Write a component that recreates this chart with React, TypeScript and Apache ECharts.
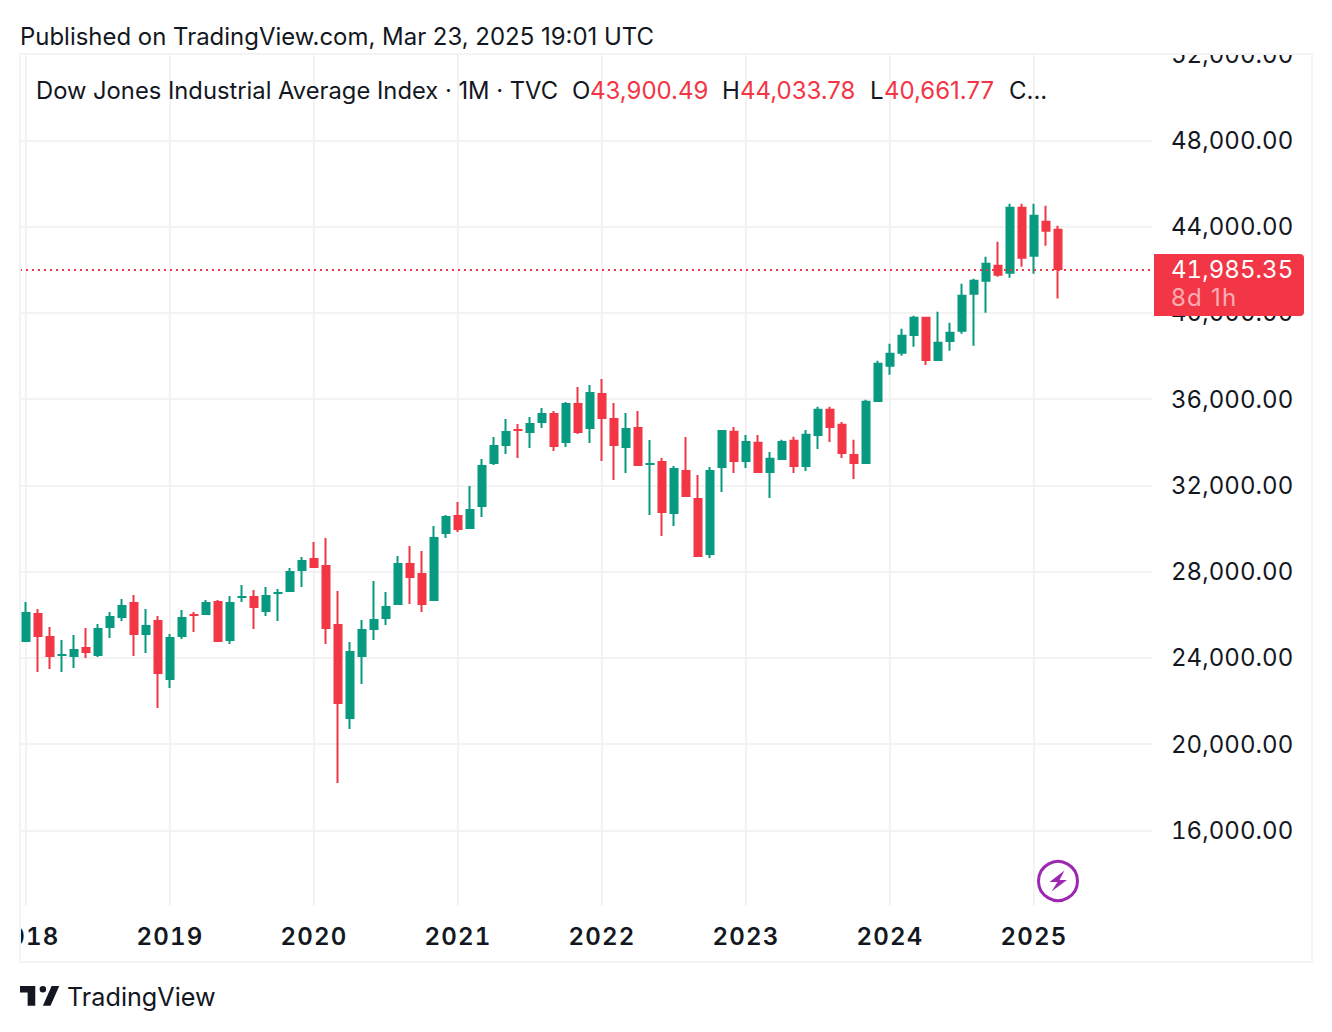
import React, { useEffect, useRef } from "react";
import * as echarts from "echarts";

const years = ["2018", "2019", "2020", "2021", "2022", "2023", "2024", "2025"];
const priceTicks = [16000, 20000, 24000, 28000, 32000, 36000, 40000, 44000, 48000, 52000];
const opens = [24740, 26085, 25019, 24091, 24045, 24509, 24091, 25390, 25853, 26595, 25065, 25761, 22978, 24972, 26039, 25992, 26642, 24787, 26781, 26874, 26132, 26966, 27059, 28033, 28636, 28311, 25575, 21170, 24045, 25297, 25807, 26456, 28404, 27940, 26642, 29749, 30630, 29981, 31001, 32995, 33830, 34618, 34432, 34896, 35360, 33969, 35824, 34618, 36287, 35128, 33737, 34711, 32948, 33134, 30676, 32717, 31418, 28775, 32810, 34526, 33088, 34016, 32578, 33181, 34109, 32857, 34294, 35546, 34851, 33459, 32996, 35871, 37494, 38097, 38931, 39812, 37772, 38653, 39117, 40833, 41435, 42224, 41806, 44914, 42595, 44264, 43900.49];
const closes = [26132, 24972, 24045, 24184, 24416, 24230, 25390, 25946, 26456, 25065, 25529, 23256, 24972, 25900, 25946, 26595, 24740, 26595, 26874, 26317, 26920, 27059, 28033, 28543, 28172, 25343, 21865, 24323, 25343, 25807, 26410, 28404, 27708, 26456, 29610, 30584, 29934, 30908, 32948, 33876, 34525, 34525, 34896, 35360, 33783, 35824, 34432, 36334, 35082, 33830, 34664, 32902, 33041, 30722, 32809, 31465, 28682, 32717, 34572, 33088, 34062, 32578, 33274, 34062, 32857, 34387, 35546, 34665, 33459, 32996, 35917, 37679, 38143, 38978, 39812, 37772, 38653, 39117, 40833, 41528, 42317, 41714, 44914, 42502, 44543, 43754, 41985.35];
const highs = [26595, 26271, 25436, 24833, 25065, 25390, 25575, 26132, 26734, 26920, 26271, 25946, 25111, 26224, 26132, 26688, 26688, 26874, 27384, 27152, 27291, 27198, 28172, 28682, 29378, 29563, 27105, 24740, 25761, 27569, 27059, 28729, 29192, 28960, 30120, 30630, 31233, 31975, 33227, 34247, 35082, 34850, 35174, 35592, 35453, 35870, 36566, 36658, 36937, 35824, 35360, 35453, 34108, 33273, 32902, 34247, 32485, 32856, 34572, 34711, 34340, 34340, 33552, 34109, 34248, 34572, 35639, 35639, 34943, 34109, 35964, 37772, 38560, 39256, 39859, 39812, 40044, 39534, 41343, 41575, 42595, 43290, 45053, 45053, 45053, 44960, 44033.78];
const lows = [24740, 23349, 23488, 23349, 23535, 23998, 24045, 24926, 25714, 24091, 24230, 21680, 22607, 24879, 25204, 25992, 24740, 24648, 26595, 25343, 25946, 25714, 27059, 27291, 28172, 24648, 18202, 20706, 22793, 24833, 25529, 26456, 26503, 26132, 26642, 29563, 29842, 29981, 30537, 32948, 33459, 33273, 33737, 34664, 33598, 33783, 34386, 33969, 33134, 32253, 32577, 32902, 30630, 29656, 30120, 31465, 28682, 28636, 31697, 32578, 32810, 32578, 31419, 33181, 32578, 32671, 33691, 34016, 33274, 32300, 32996, 35871, 37123, 38004, 38421, 37586, 37772, 38236, 39024, 38468, 39998, 41667, 41621, 42131, 41806, 43105, 40661.77];
const lastPrice = 41985.35;
const countdown = "8d 1h";

const UP = "#089981";
const DOWN = "#f23645";
const INK = "#131722";
const GRID = "#f3f3f3";
const FONT = "Inter";
// font sizes that also carry a spacing rule in the style tag below
const PRICE_SIZE = 24.01;
const YEAR_SIZE = 24.02;
const COUNTDOWN_SIZE = 24.03;
const SPACING_CSS = `
svg text[style*="24.01px"]{letter-spacing:0.05px;font-variant-numeric:tabular-nums !important;font-feature-settings:"tnum" !important}
svg text[style*="24.02px"]{letter-spacing:1.2px;font-variant-numeric:tabular-nums !important;font-feature-settings:"tnum" !important}
svg text[style*="24.03px"]{letter-spacing:1.2px}
`;

// the candle's outline adds half its width to each end of the body
const OUTLINE_HALF = 46;
const inset = (o: number, c: number): [number, number] => {
  if (Math.abs(o - c) <= OUTLINE_HALF * 2) {
    const m = (o + c) / 2;
    return [m, m];
  }
  return o < c ? [o + OUTLINE_HALF, c - OUTLINE_HALF] : [o - OUTLINE_HALF, c + OUTLINE_HALF];
};

const months: string[] = [];
years.forEach((y) => {
  for (let m = 1; m <= 12; m++) months.push(`${y}-${String(m).padStart(2, "0")}`);
});
const categories = months.slice(0, 95);
const isJanuary = (i: number) => (categories[i] || "").endsWith("-01");

const candles = opens.map((o, i) => {
  const [a, b] = inset(o, closes[i]);
  // equal ends keep the colour of the real candle
  const up = closes[i] >= o;
  return {
    value: [a, b, lows[i], highs[i]],
    itemStyle: { color: up ? UP : DOWN, borderColor: up ? UP : DOWN, color0: up ? UP : DOWN, borderColor0: up ? UP : DOWN, borderColorDoji: up ? UP : DOWN },
  };
});

const txt = (text: string, x: number, y: number, fill: string, size = 24, weight = 400, z = 70) => ({
  type: "text",
  x,
  y,
  z,
  silent: true,
  style: { text, fill, font: `${weight} ${size}px ${FONT}`, verticalAlign: "middle", textVerticalAlign: "middle" },
});
const panel = (x: number, y: number, width: number, height: number) => ({
  type: "rect",
  z: 50,
  silent: true,
  shape: { x, y, width, height },
  style: { fill: "#ffffff" },
});

echarts.graphic.registerShape(
  "tvLogo",
  echarts.graphic.extendPath("M14 6H0v6h7v12h7V6ZM28 24h-7l8-18h7l-8 18ZM24 9a3 3 0 1 1-6 0a3 3 0 1 1 6 0Z", {}) as any
);

export default function App() {
  const ref = useRef<HTMLDivElement>(null);
  useEffect(() => {
    const chart = echarts.init(ref.current!, undefined, { renderer: "svg" });
    chart.setOption({
      animation: false,
      backgroundColor: "#ffffff",
      textStyle: { fontFamily: FONT },
      grid: { left: 20, top: 54, width: 1140, height: 852, containLabel: false, outerBoundsMode: "none" },
      xAxis: {
        type: "category",
        data: categories,
        boundaryGap: true,
        axisLine: { show: false },
        axisTick: { show: false, alignWithLabel: true, interval: (i: number) => isJanuary(i) },
        axisLabel: {
          interval: (i: number) => isJanuary(i),
          formatter: (v: string) => v.slice(0, 4),
          color: INK,
          fontSize: YEAR_SIZE,
          fontWeight: 600,
          fontFamily: FONT,
          margin: 18,
          hideOverlap: false,
        },
        splitLine: {
          show: true,
          alignWithLabel: true,
          interval: (i: number) => isJanuary(i),
          lineStyle: { color: GRID, width: 2 },
        },
      },
      yAxis: {
        type: "value",
        position: "right",
        min: 12497,
        max: 52000,
        scale: true,
        axisLine: { show: false },
        axisTick: { show: false, customValues: priceTicks },
        axisLabel: {
          customValues: priceTicks,
          formatter: (v: number) => v.toLocaleString("en-US", { minimumFractionDigits: 2, maximumFractionDigits: 2 }),
          color: INK,
          fontSize: PRICE_SIZE,
          fontFamily: FONT,
          margin: 11,
          align: "left",
          showMinLabel: true,
          showMaxLabel: true,
        },
        splitLine: { show: true, lineStyle: { color: GRID, width: 2 } },
      },
      series: [
        {
          type: "candlestick",
          data: candles,
          barWidth: 8,
          itemStyle: { color: UP, color0: DOWN, borderColor: UP, borderColor0: DOWN, borderWidth: 2 },
          markLine: {
            silent: true,
            symbol: "none",
            animation: false,
            label: { show: false },
            lineStyle: { color: DOWN, type: [2, 4], width: 2 },
            data: [{ yAxis: lastPrice }],
          },
        },
      ],
      graphic: {
        elements: [
          panel(1152, 56, 10, 849),
          panel(1155, 28, 155, 25),
          panel(0, 906, 19, 54),
          {
            type: "rect",
            z: 60,
            silent: true,
            shape: { x: 20, y: 54, width: 1292, height: 908 },
            style: { fill: "none", stroke: GRID, lineWidth: 2 },
          },
          txt("Published on TradingView.com, Mar 23, 2025 19:01 UTC", 20, 36, INK, 23.95),
          txt("Dow Jones Industrial Average Index · 1M · TVC", 36, 90, INK, 23.75),
          txt("O", 572, 90, INK),
          txt(opens[opens.length - 1].toLocaleString("en-US"), 590, 90, DOWN),
          txt("H", 722, 90, INK),
          txt(highs[highs.length - 1].toLocaleString("en-US"), 740, 90, DOWN),
          txt("L", 870, 90, INK),
          txt(lows[lows.length - 1].toLocaleString("en-US"), 884, 90, DOWN),
          txt("C...", 1009, 90, INK),
          {
            type: "rect",
            z: 55,
            silent: true,
            shape: { x: 1154, y: 254, width: 150, height: 62, r: [0, 4, 4, 0] },
            style: { fill: DOWN },
          },
          txt(lastPrice.toLocaleString("en-US"), 1171, 269, "#ffffff", PRICE_SIZE),
          txt(countdown, 1171, 297, "rgba(255,255,255,0.6)", COUNTDOWN_SIZE),
          {
            type: "circle",
            z: 60,
            silent: true,
            shape: { cx: 1058, cy: 881, r: 19.5 },
            style: { fill: "#ffffff", stroke: "#9c27b0", lineWidth: 3 },
          },
          {
            type: "polygon",
            z: 61,
            silent: true,
            shape: { points: [[1064.5, 870.5], [1049.5, 882], [1057.5, 882], [1051.5, 891.5], [1067, 880], [1059.5, 880]] },
            style: { fill: "#9c27b0" },
          },
          {
            type: "tvLogo",
            z: 60,
            silent: true,
            x: 20,
            y: 979.5,
            scaleX: 1.09,
            scaleY: 1.09,
            style: { fill: INK },
          },
          txt("TradingView", 67, 997, INK, 25.2),
        ],
      },
    });
    return () => chart.dispose();
  }, []);
  return (
    <>
      <style>{SPACING_CSS}</style>
      <div ref={ref} style={{ position: "absolute", left: 0, top: 0, width: 1332, height: 1032 }} />
    </>
  );
}
